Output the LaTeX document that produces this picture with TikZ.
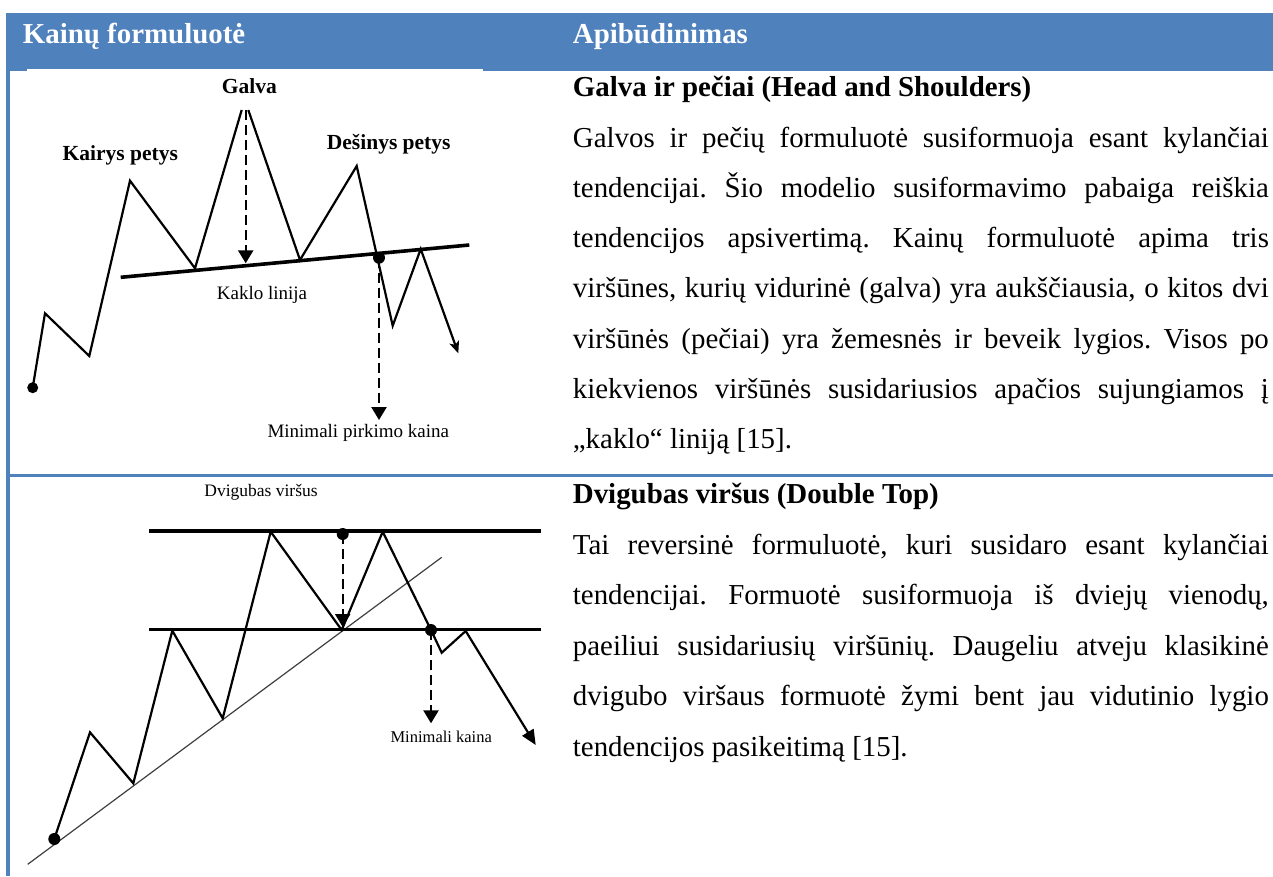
\documentclass[tikz,border=0pt]{standalone}
\usepackage{fontspec}
\setmainfont{Liberation Serif}
\usetikzlibrary{arrows.meta}
\definecolor{tblblue}{RGB}{79,129,189}
\newcommand{\bodyfont}{\fontsize{28.9}{34}\selectfont}
\newcommand{\jline}[1]{\makebox[696pt][s]{#1}}
\frenchspacing

\begin{document}
\begin{tikzpicture}[x=1pt,y=-1pt,
  rowtext/.style={anchor=base west, inner sep=0pt, font=\bodyfont},
  headtext/.style={anchor=base west, inner sep=0pt, font=\bodyfont\bfseries, text=white},
  bigtag/.style={anchor=base, inner sep=0pt, font=\fontsize{21.5}{24}\selectfont\bfseries},
  smalltag/.style={anchor=base, inner sep=0pt, font=\fontsize{19}{22}\selectfont},
  price/.style={line width=2.2pt, line join=miter},
  level/.style={line width=3.6pt},
  trend/.style={line width=1.2pt, black!75},
  target/.style={line width=2.4pt, dash pattern=on 10pt off 5pt, -{Triangle[width=15pt,length=13pt]}},
  dotmark/.style={circle, fill=black, inner sep=0pt, minimum size=12pt}
]
\useasboundingbox (0,0) rectangle (1273,876);
\fill[white] (0,0) rectangle (1273,876);

% table frame
\fill[tblblue] (6,12.7) rectangle (1273,70.5);
\fill[tblblue] (6,12.7) rectangle (9.5,876);
\fill[tblblue] (6,474) rectangle (1273,477);
\fill[white] (27,69) rectangle (483,72);

\node[headtext] (h1) at (22.7,43.3) {Kainų formuluotė};
\node[headtext] (h2) at (572.7,43.3) {Apibūdinimas};

% ---------- head and shoulders chart ----------
\coordinate (a0) at (32.7,387.7);
\coordinate (a1) at (45,313.3);
\coordinate (a2) at (89.3,356);
\coordinate (a3) at (130,180.7);
\coordinate (a4) at (195,268.3);
\coordinate (a5) at (241.7,110);
\coordinate (a6) at (248.3,110);
\coordinate (a7) at (300,260);
\coordinate (a8) at (356.7,166);
\coordinate (a10) at (392.7,325.7);
\coordinate (a11) at (420.7,249);
\coordinate (a12) at (458.3,353.3);
\coordinate (n1) at (120.7,277.3);
\coordinate (n2) at (469.3,245);
\coordinate (hd1) at (245.7,110);
\coordinate (hd2) at (245.7,263.3);
\coordinate (mn2) at (379,420);

\draw[level] (n1) -- (n2);
\draw[price] (a0) -- (a1) -- (a2) -- (a3) -- (a4) -- (a5);
\draw[price, -{Stealth[length=12pt,width=10pt,inset=3pt]}] (a6) -- (a7) -- (a8) -- (a10) -- (a11) -- (a12);
\node[dotmark, minimum size=11pt] (s0) at (a0) {};
\node[dotmark] (brk1) at (379,257.7) {};
\draw[target] (hd1) -- (hd2);
\draw[target] (brk1.center) -- (mn2);

\node[bigtag] (galva) at (249.3,93.3) {Galva};
\node[bigtag] (kp) at (120.3,160) {Kairys petys};
\node[bigtag] (dp) at (388.7,149.3) {Dešinys petys};
\node[smalltag] (kl) at (262,299.3) {Kaklo linija};
\node[smalltag] (mpk) at (358.3,437.3) {Minimali pirkimo kaina};

% ---------- head and shoulders description ----------
\node[rowtext, font=\bodyfont\bfseries] (t1) at (572.7,96.7) {Galva ir pečiai (Head and Shoulders)};
\node[rowtext] (t1a) at (572.7,147.3) {\jline{Galvos ir pečių formuluotė susiformuoja esant kylančiai}};
\node[rowtext] (t1b) at (572.7,197.5) {\jline{tendencijai. Šio modelio susiformavimo pabaiga reiškia}};
\node[rowtext] (t1c) at (572.7,247.7) {\jline{tendencijos apsivertimą. Kainų formuluotė apima tris}};
\node[rowtext] (t1d) at (572.7,297.9) {\jline{viršūnes, kurių vidurinė (galva) yra aukščiausia, o kitos dvi}};
\node[rowtext] (t1e) at (572.7,348.1) {\jline{viršūnės (pečiai) yra žemesnės ir beveik lygios. Visos po}};
\node[rowtext] (t1f) at (572.7,398.3) {\jline{kiekvienos viršūnės susidariusios apačios sujungiamos į}};
\node[rowtext] (t1g) at (572.7,448.5) {„kaklo“ liniją [15].};

% ---------- double top chart ----------
\coordinate (b0) at (54.3,839);
\coordinate (b1) at (90,732.3);
\coordinate (b2) at (133.3,783.3);
\coordinate (b3) at (172.3,630.7);
\coordinate (b4) at (222.7,718.3);
\coordinate (b5) at (270.7,531.7);
\coordinate (b6) at (341.7,630);
\coordinate (b7) at (382.7,531.7);
\coordinate (b8) at (431,630);
\coordinate (b9) at (441.7,652.7);
\coordinate (b10) at (465.7,631);
\coordinate (b11) at (535.7,745);
\coordinate (u1) at (149,531);
\coordinate (u2) at (541,531);
\coordinate (l1) at (149,629.3);
\coordinate (l2) at (541,629.3);
\coordinate (tr1) at (27.7,864.3);
\coordinate (tr2) at (441.7,557.3);
\coordinate (dt2) at (342.7,627);
\coordinate (mk2) at (431,723.3);

\draw[trend] (tr1) -- (tr2);
\draw[level] (u1) -- (u2);
\draw[level] (l1) -- (l2);
\draw[price, -{Triangle[width=13pt,length=15pt]}] (b0) -- (b1) -- (b2) -- (b3) -- (b4) -- (b5) -- (b6) -- (b7) -- (b8) -- (b9) -- (b10) -- (b11);
\node[dotmark] (d0) at (b0) {};
\node[dotmark] (dtop) at (342.7,534) {};
\node[dotmark] (brk2) at (b8) {};
\draw[target] (dtop.center) -- (dt2);
\draw[target] (brk2.center) -- (mk2);

\node[smalltag, font=\fontsize{17.5}{20}\selectfont] (dv) at (261,496) {Dvigubas viršus};
\node[smalltag, font=\fontsize{16.5}{19}\selectfont] (mk) at (441.2,742.7) {Minimali kaina};

% ---------- double top description ----------
\node[rowtext, font=\bodyfont\bfseries] (t2) at (572.7,503.3) {Dvigubas viršus (Double Top)};
\node[rowtext] (t2a) at (572.7,554) {\jline{Tai reversinė formuluotė, kuri susidaro esant kylančiai}};
\node[rowtext] (t2b) at (572.7,604.5) {\jline{tendencijai. Formuotė susiformuoja iš dviejų vienodų,}};
\node[rowtext] (t2c) at (572.7,655) {\jline{paeiliui susidariusių viršūnių. Daugeliu atveju klasikinė}};
\node[rowtext] (t2d) at (572.7,705.5) {\jline{dvigubo viršaus formuotė žymi bent jau vidutinio lygio}};
\node[rowtext] (t2e) at (572.7,756) {tendencijos pasikeitimą [15].};
\end{tikzpicture}
\end{document}
